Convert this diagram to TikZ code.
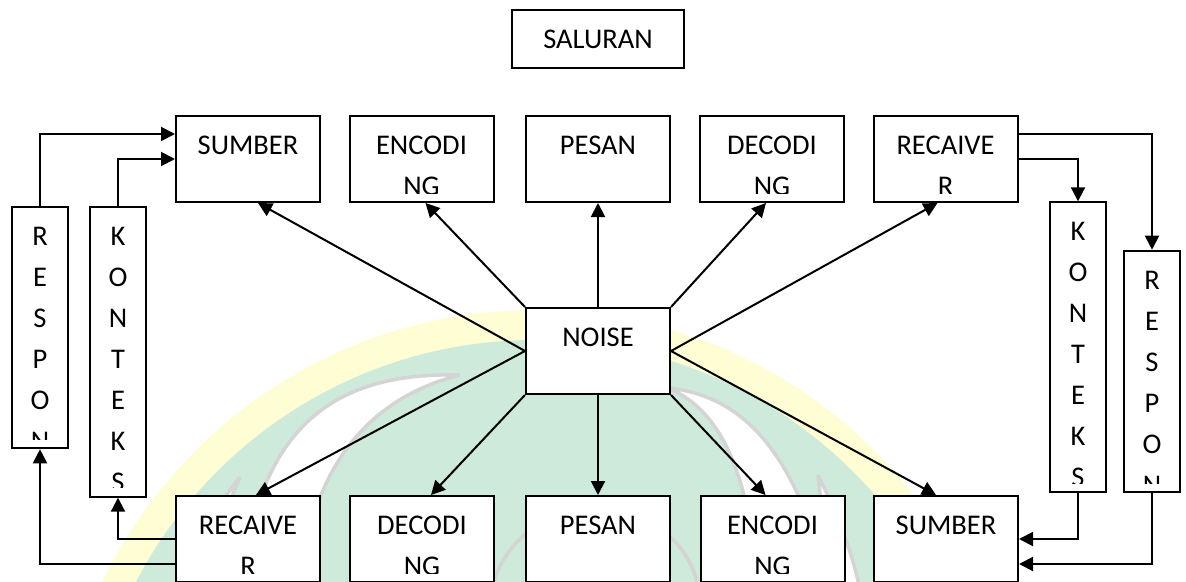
\documentclass[tikz,border=0pt]{standalone}
\usepackage{fontspec}
\setmainfont{Carlito}
\usetikzlibrary{arrows.meta}

\definecolor{kuning}{RGB}{254,253,212}
\definecolor{hijau}{RGB}{206,234,219}
\definecolor{abu}{RGB}{212,212,212}

% isi kotak: satu baris per item, baris yang lewat batas bawah terpotong
\newcommand\isikotak[2]{%
  \begin{scope}
    \clip ([yshift=10pt]#1.south west) rectangle (#1.north east);
    \foreach \baris [count=\i] in {#2}
      \node[teks] (#1-\i) at ([yshift={-39.5pt-(\i-1)*41pt}]#1.north) {\baris};
  \end{scope}}

\begin{document}
\begin{tikzpicture}[x=1pt, y=-1pt,
    kotak/.style={draw, fill=white, line width=2pt, minimum width=144pt,
      minimum height=86pt, inner sep=0pt},
    tegak/.style={kotak, minimum width=56pt},
    teks/.style={anchor=base, inner sep=0pt, font=\fontsize{28.5pt}{41pt}\selectfont},
    panah/.style={line width=2pt, -{Triangle[length=14pt,width=14pt]}},
    garis/.style={draw=abu, line width=3.5pt}]
  \clip (0,0) rectangle (1186,581);

  % Logo di latar belakang
  \fill[kuning] (535,790) circle (480);
  \fill[hijau] (535,790) circle (450);
  \filldraw[garis, fill=white] (460,375) .. controls (340,372) and (255,420) .. (240,600)
    -- (300,600) .. controls (305,480) and (360,400) .. (460,375);
  \filldraw[garis, fill=white] (668,388) .. controls (740,395) and (800,450) .. (830,600)
    -- (760,600) .. controls (750,470) and (720,410) .. (668,388);
  \filldraw[garis, fill=white] (818,475) .. controls (840,520) and (855,560) .. (862,600)
    -- (830,600) .. controls (828,560) and (823,520) .. (818,475);
  \filldraw[garis, fill=white] (240,477) .. controls (222,520) and (205,560) .. (195,600)
    -- (170,600) .. controls (190,545) and (215,510) .. (240,477);
  \draw[garis] (490,600) .. controls (505,480) and (690,480) .. (700,600);

  % Kotak
  \node[kotak, minimum width=172pt, minimum height=58pt] (saluran) at (598,39) {};
  \node[kotak] (sumber1) at (248,159) {};
  \node[kotak] (encoding1) at (421.5,159) {};
  \node[kotak] (pesan1) at (598,159) {};
  \node[kotak] (decoding1) at (772,159) {};
  \node[kotak] (recaiver1) at (945.5,159) {};
  \node[kotak] (noise) at (598,351) {};
  \node[kotak] (recaiver2) at (248,539) {};
  \node[kotak] (decoding2) at (422,539) {};
  \node[kotak] (pesan2) at (598,539) {};
  \node[kotak] (encoding2) at (772.5,539) {};
  \node[kotak] (sumber2) at (946,539) {};
  \node[tegak, minimum height=241.6pt] (respon1) at (40,327.5) {};
  \node[tegak, minimum height=290pt] (konteks1) at (118,351.7) {};
  \node[tegak, minimum height=290pt] (konteks2) at (1078,347.3) {};
  \node[tegak, minimum height=241.6pt] (respon2) at (1152,371.5) {};

  % Tulisan
  \isikotak{saluran}{SALURAN}
  \isikotak{sumber1}{SUMBER}
  \isikotak{encoding1}{ENCODI,NG}
  \isikotak{pesan1}{PESAN}
  \isikotak{decoding1}{DECODI,NG}
  \isikotak{recaiver1}{RECAIVE,R}
  \isikotak{noise}{NOISE}
  \isikotak{recaiver2}{RECAIVE,R}
  \isikotak{decoding2}{DECODI,NG}
  \isikotak{pesan2}{PESAN}
  \isikotak{encoding2}{ENCODI,NG}
  \isikotak{sumber2}{SUMBER}
  \isikotak{respon1}{R,E,S,P,O,N}
  \isikotak{konteks1}{K,O,N,T,E,K,S}
  \isikotak{konteks2}{K,O,N,T,E,K,S}
  \isikotak{respon2}{R,E,S,P,O,N}

  % Panah dari noise
  \draw[panah] (noise.west) -- ([xshift=10pt]sumber1.south);
  \draw[panah] (noise.north west) -- ([xshift=4pt]encoding1.south);
  \draw[panah] (noise.north) -- (pesan1.south);
  \draw[panah] (noise.north east) -- ([xshift=-6pt]decoding1.south);
  \draw[panah] (noise.east) -- ([xshift=-8pt]recaiver1.south);
  \draw[panah] (noise.west) -- ([xshift=8pt]recaiver2.north);
  \draw[panah] (noise.south west) -- ([xshift=9pt]decoding2.north);
  \draw[panah] (noise.south) -- (pesan2.north);
  \draw[panah] (noise.south east) -- ([xshift=-7pt]encoding2.north);
  \draw[panah] (noise.east) -- ([xshift=-10pt]sumber2.north);

  % Umpan balik kiri
  \draw[panah] (respon1.north) |- ([yshift=25pt]sumber1.west);
  \draw[panah] (konteks1.north) |- (sumber1.west);
  \draw[panah] (recaiver2.west) -| (konteks1.south);
  \draw[panah] ([yshift=-25pt]recaiver2.west) -| (respon1.south);

  % Umpan balik kanan
  \draw[panah] ([yshift=25pt]recaiver1.east) -| (respon2.north);
  \draw[panah] (recaiver1.east) -| (konteks2.north);
  \draw[panah] (konteks2.south) |- (sumber2.east);
  \draw[panah] (respon2.south) |- ([yshift=-25pt]sumber2.east);
\end{tikzpicture}
\end{document}
